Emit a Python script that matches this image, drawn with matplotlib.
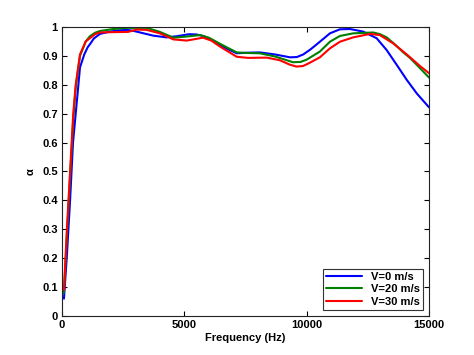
import matplotlib
matplotlib.use("Agg")
import matplotlib.pyplot as plt

# ── Data ─────────────────────────────────────────────────────────────────────
freq_v0 = [80, 200, 330, 450, 560, 670, 735, 910, 1050, 1140, 1300, 1550, 1960,
           2300, 2640, 2900, 3190, 3730, 4280, 4690, 5200, 5500, 5800, 6200,
           6600, 7140, 7600, 8090, 8700, 9320, 9600, 9860, 10150, 10540, 10950,
           11360, 11770, 12310, 12860, 13270, 13680, 14090, 14500, 15000]
alpha_v0 = [0.06, 0.21, 0.40, 0.60, 0.70, 0.80, 0.86, 0.905, 0.93, 0.94, 0.96, 0.976, 0.984,
            0.988, 0.99, 0.987, 0.981, 0.97, 0.964, 0.968, 0.975, 0.974, 0.968, 0.952,
            0.93, 0.909, 0.911, 0.912, 0.905, 0.895, 0.896, 0.905, 0.922, 0.949, 0.978,
            0.992, 0.993, 0.984, 0.961, 0.92, 0.869, 0.817, 0.77, 0.722]

freq_v20 = [80, 200, 330, 460, 560, 735, 970, 1140, 1350, 1550, 2100, 2640, 3460,
            4000, 4550, 5100, 5640, 6000, 6500, 7140, 7600, 8090, 8700, 9440,
            9750, 10000, 10540, 10950, 11360, 11900, 12720, 13000, 13270, 13600,
            13950, 14220, 14500, 15000]
alpha_v20 = [0.08, 0.28, 0.48, 0.68, 0.79, 0.90, 0.95, 0.968, 0.98, 0.986, 0.993, 0.997, 0.997,
             0.983, 0.963, 0.967, 0.972, 0.963, 0.94, 0.912, 0.91, 0.909, 0.898, 0.878,
             0.879, 0.887, 0.915, 0.949, 0.969, 0.978, 0.981, 0.975, 0.964, 0.94,
             0.912, 0.893, 0.869, 0.825]

freq_v30 = [80, 200, 330, 460, 560, 735, 970, 1140, 1350, 1550, 2000, 2700, 3050,
            3460, 4000, 4550, 5100, 5760, 6100, 6500, 7140, 7600, 8360, 8900,
            9300, 9580, 9850, 10100, 10540, 10950, 11360, 11900, 12590, 12990,
            13540, 14090, 14630, 15000]
alpha_v30 = [0.09, 0.30, 0.50, 0.70, 0.80, 0.905, 0.95, 0.961, 0.975, 0.981, 0.982, 0.983, 0.991,
             0.99, 0.978, 0.957, 0.953, 0.963, 0.953, 0.93, 0.897, 0.893, 0.894, 0.885,
             0.87, 0.863, 0.865, 0.875, 0.895, 0.926, 0.949, 0.964, 0.976, 0.972,
             0.943, 0.905, 0.865, 0.84]

labels = ["V=0 m/s", "V=20 m/s", "V=30 m/s"]
x_ticks = [0, 5000, 10000, 15000]
y_ticks = [0, 0.1, 0.2, 0.3, 0.4, 0.5, 0.6, 0.7, 0.8, 0.9, 1]
y_tick_labels = ["0", "0.1", "0.2", "0.3", "0.4", "0.5", "0.6", "0.7", "0.8", "0.9", "1"]

# ── Figure ───────────────────────────────────────────────────────────────────
plt.rcParams["font.family"] = ["Liberation Sans", "DejaVu Sans"]
plt.rcParams["font.weight"] = "bold"

fig = plt.figure(figsize=(4.74, 3.55), dpi=100)
ax = fig.add_axes([0.1308, 0.1099, 0.7743, 0.8141])

style = dict(linewidth=1.5, solid_joinstyle="round", solid_capstyle="round")
ax.plot(freq_v0, alpha_v0, color="#0000ff", label=labels[0], **style)
ax.plot(freq_v20, alpha_v20, color="#008000", label=labels[1], **style)
ax.plot(freq_v30, alpha_v30, color="#ff0000", label=labels[2], **style)

ax.set_xlim(0, 15000)
ax.set_ylim(0, 1)
ax.set_xticks(x_ticks)
ax.set_xticklabels([str(t) for t in x_ticks])
ax.set_yticks(y_ticks)
ax.set_yticklabels(y_tick_labels)
ax.tick_params(direction="in", top=True, right=True, length=3.5, width=0.8,
               labelsize=8, pad=3)
for lbl in ax.get_xticklabels() + ax.get_yticklabels():
    lbl.set_fontweight("bold")
for spine in ax.spines.values():
    spine.set_linewidth(0.8)
    spine.set_color("#222222")

ax.set_xlabel("Frequency (Hz)", fontsize=8, fontweight="bold", labelpad=2)
ax.set_ylabel("α", fontsize=8, fontweight="bold", labelpad=5)

leg = ax.legend(loc="lower right", fontsize=8, handlelength=3.2, frameon=True,
                fancybox=False, framealpha=1, edgecolor="#333333",
                borderaxespad=0.55, borderpad=0.3, labelspacing=0.2)
leg.get_frame().set_linewidth(0.8)
for t in leg.get_texts():
    t.set_fontweight("bold")

fig.savefig("out.png", dpi=100)
